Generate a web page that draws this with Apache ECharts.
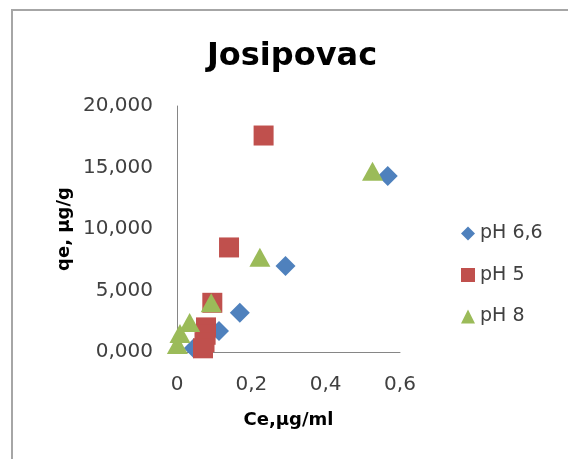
<!DOCTYPE html>
<html>
<head>
<meta charset="utf-8">
<script src="https://cdn.jsdelivr.net/npm/echarts@6/dist/echarts.min.js"></script>
<style>html,body{margin:0;padding:0;background:#fff}#c{width:568px;height:459px}</style>
</head>
<body>
<div id="c"></div>
<script>
// Data (qe in the axis' own units: 1 = "1,000")
const seriesNames = ['pH 6,6', 'pH 5', 'pH 8'];
const ph66 = [[0.567, 14.3], [0.292, 7.0], [0.169, 3.2], [0.113, 1.7], [0.045, 0.3]];
const ph5 = [[0.233, 17.6], [0.140, 8.5], [0.095, 4.0], [0.078, 2.0], [0.077, 1.4], [0.074, 0.8], [0.070, 0.3]];
const ph8 = [[0.526, 14.7], [0.223, 7.7], [0.092, 4.0], [0.034, 2.4], [0.008, 1.5], [0.001, 0.6]];
const xTicks = [0, 0.2, 0.4, 0.6];
const yTicks = [0, 5, 10, 15, 20];

const chart = echarts.init(document.getElementById('c'));
const font = 'DejaVu Sans';
chart.setOption({
  animation: false,
  backgroundColor: '#fff',
  title: {
    text: 'Josipovac', left: 287, top: 36, textAlign: 'center',
    textStyle: { fontFamily: font, fontSize: 32, fontWeight: 'bold', color: '#000' }
  },
  graphic: [{
    type: 'rect', shape: { x: 12, y: 10, width: 600, height: 500 },
    style: { fill: 'none', stroke: '#a6a6a6', lineWidth: 2 }, silent: true
  }],
  legend: {
    orient: 'vertical', left: 456, top: 219, itemWidth: 14, itemHeight: 14, itemGap: 22.5,
    textStyle: { fontFamily: font, fontSize: 19, color: '#404040' },
    data: [
      { name: seriesNames[0], icon: 'diamond' },
      { name: seriesNames[1], icon: 'rect' },
      { name: seriesNames[2], icon: 'triangle' }
    ]
  },
  grid: { left: 177, right: 168, top: 106, bottom: 107, containLabel: false },
  xAxis: {
    type: 'value', min: xTicks[0], max: xTicks[xTicks.length - 1], interval: 0.2,
    name: 'Ce,µg/ml', nameLocation: 'middle', nameGap: 59,
    nameTextStyle: { fontFamily: font, fontSize: 18, fontWeight: 'bold', color: '#000' },
    axisLine: { lineStyle: { color: '#868686', width: 1 } },
    axisTick: { show: false }, splitLine: { show: false },
    axisLabel: { fontFamily: font, fontSize: 20, color: '#404040', margin: 23,
      formatter: v => String(+v.toFixed(1)).replace('.', ',') }
  },
  yAxis: {
    type: 'value', min: yTicks[0], max: yTicks[yTicks.length - 1], interval: 5,
    name: 'qe, µg/g', nameLocation: 'middle', nameGap: 104, nameRotate: 90,
    nameTextStyle: { fontFamily: font, fontSize: 18, fontWeight: 'bold', color: '#000' },
    axisLine: { show: true, lineStyle: { color: '#868686', width: 1 } },
    axisTick: { show: false }, splitLine: { show: false },
    axisLabel: { fontFamily: font, fontSize: 20, color: '#404040', margin: 24,
      formatter: v => v.toFixed(3).replace('.', ',') }
  },
  series: [
    { name: seriesNames[0], type: 'scatter', data: ph66, symbol: 'diamond', symbolSize: 20,
      itemStyle: { color: '#4F81BD', opacity: 1 } },
    { name: seriesNames[1], type: 'scatter', data: ph5, symbol: 'rect', symbolSize: 20,
      itemStyle: { color: '#C0504D', opacity: 1 } },
    { name: seriesNames[2], type: 'scatter', data: ph8, symbol: 'triangle', symbolSize: [21, 19],
      itemStyle: { color: '#9BBB59', opacity: 1 } }
  ]
});
</script>
</body>
</html>
